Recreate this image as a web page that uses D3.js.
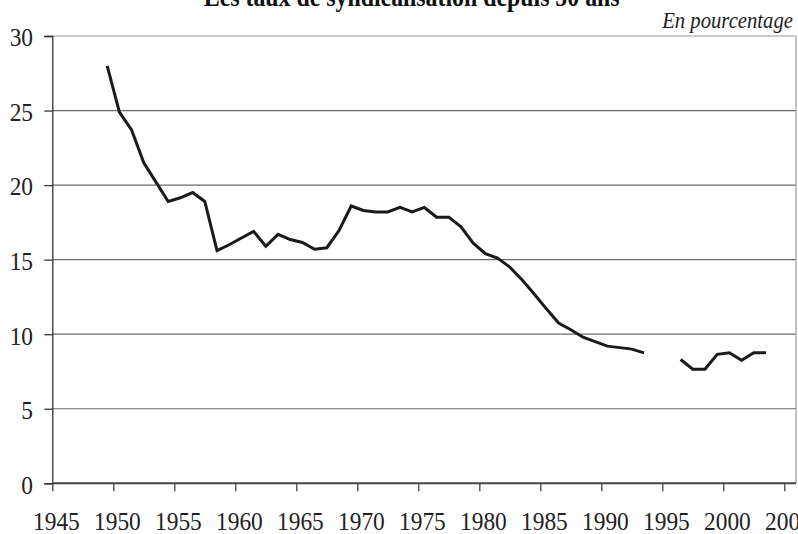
<!DOCTYPE html>
<html>
<head>
<meta charset="utf-8">
<script src="https://cdn.jsdelivr.net/npm/d3@7"></script>
<style>
  body { margin: 0; background: #fff; }
  svg { display: block; }
</style>
</head>
<body>
<script>
// years and union membership rate (%), gaps are null
var years = [1949, 1950, 1951, 1952, 1953, 1954, 1955, 1956, 1957, 1958,
             1959, 1960, 1961, 1962, 1963, 1964, 1965, 1966, 1967, 1968,
             1969, 1970, 1971, 1972, 1973, 1974, 1975, 1976, 1977, 1978,
             1979, 1980, 1981, 1982, 1983, 1984, 1985, 1986, 1987, 1988,
             1989, 1990, 1991, 1992, 1993, 1994, 1995, 1996, 1997, 1998,
             1999, 2000, 2001, 2002, 2003];
var rates = [28.0, 24.9, 23.7, 21.5, 20.2, 18.9, 19.15, 19.5, 18.9, 15.6,
             16.0, 16.45, 16.9, 15.9, 16.7, 16.35, 16.15, 15.7, 15.8, 16.95,
             18.6, 18.3, 18.2, 18.2, 18.5, 18.2, 18.5, 17.85, 17.85, 17.2,
             16.1, 15.4, 15.1, 14.5, 13.65, 12.7, 11.7, 10.75, 10.3, 9.8,
             9.5, 9.2, 9.1, 9.0, 8.75, null, null, 8.3, 7.65, 7.65,
             8.65, 8.75, 8.25, 8.75, 8.75];
var yTicks = [0, 5, 10, 15, 20, 25, 30];
var xTicks = [1945, 1950, 1955, 1960, 1965, 1970, 1975, 1980, 1985, 1990, 1995, 2000, 2005];
var title = "Les taux de syndicalisation depuis 50 ans";
var unit = "En pourcentage";

var width = 798,
    height = 534,
    plotLeft = 52.3,
    plotRight = 796,
    plotTop = 36,
    plotBottom = 483.3;

var serif = "Liberation Serif";
var squeeze = 0.9;   // the source type is a narrow Times

var svg = d3.select("body").append("svg")
    .attr("width", width)
    .attr("height", height);

var x = d3.scaleLinear().domain([1945, 2005]).range([plotLeft, 784.3]);
var y = d3.scaleLinear().domain([0, 30]).range([plotBottom, plotTop]);

// gridlines
svg.append("g")
    .selectAll("line")
    .data(yTicks.filter(function (d) { return d > 0; }))
    .enter().append("line")
    .attr("x1", plotLeft)
    .attr("x2", plotRight)
    .attr("y1", function (d) { return y(d); })
    .attr("y2", function (d) { return y(d); })
    .attr("stroke", function (d) { return d === 30 ? "#9a9a9a" : "#6a6a6a"; })
    .attr("stroke-width", 1.2);

// right border
svg.append("line")
    .attr("x1", plotRight).attr("x2", plotRight)
    .attr("y1", y(30)).attr("y2", y(0))
    .attr("stroke", "#9a9a9a")
    .attr("stroke-width", 1.2);

// y axis
var yAxis = svg.append("g")
    .attr("transform", "translate(" + plotLeft + ",0)")
    .call(d3.axisLeft(y).tickValues(yTicks).tickSize(8).tickPadding(13.4));
yAxis.select(".domain").attr("stroke", "#333").attr("stroke-width", 1.3);
yAxis.selectAll(".tick line").attr("stroke", "#333").attr("stroke-width", 1.3);
yAxis.selectAll("text")
    .style("font-family", serif)
    .style("font-size", "26px")
    .attr("fill", "#222")
    .attr("dy", "0.38em")
    .attr("transform", "scale(" + squeeze + ",1)");

// x axis
var xAxis = svg.append("g")
    .attr("transform", "translate(0," + plotBottom + ")")
    .call(d3.axisBottom(x).tickValues(xTicks).tickFormat(d3.format("d")).tickSize(8).tickPadding(20));
xAxis.select(".domain").remove();
xAxis.append("line")
    .attr("x1", plotLeft).attr("x2", plotRight)
    .attr("stroke", "#444")
    .attr("stroke-width", 2);
xAxis.selectAll(".tick line").attr("stroke", "#444").attr("stroke-width", 1.3);
xAxis.selectAll("text")
    .style("font-family", serif)
    .style("font-size", "26px")
    .attr("fill", "#222")
    .attr("dx", "4")
    .attr("transform", "scale(" + squeeze + ",1)");

// series line, values plotted mid-year
var series = years.map(function (yr, i) { return { year: yr, rate: rates[i] }; });
var line = d3.line()
    .defined(function (d) { return d.rate !== null; })
    .x(function (d) { return x(d.year + 0.5); })
    .y(function (d) { return y(d.rate); });

svg.append("path")
    .datum(series)
    .attr("d", line)
    .attr("fill", "none")
    .attr("stroke", "#1a1a1a")
    .attr("stroke-width", 3)
    .attr("stroke-linejoin", "miter");

// title (cut at top as in the source)
svg.append("text")
    .attr("x", 411.7 / squeeze)
    .attr("y", 6)
    .attr("transform", "scale(" + squeeze + ",1)")
    .attr("text-anchor", "middle")
    .style("font-family", serif)
    .style("font-size", "26.5px")
    .style("font-weight", "bold")
    .attr("fill", "#111")
    .text(title);

svg.append("text")
    .attr("x", 793 / squeeze)
    .attr("y", 28)
    .attr("transform", "scale(" + squeeze + ",1)")
    .attr("text-anchor", "end")
    .style("font-family", serif)
    .style("font-size", "23px")
    .style("font-style", "italic")
    .attr("fill", "#222")
    .text(unit);
</script>
</body>
</html>
